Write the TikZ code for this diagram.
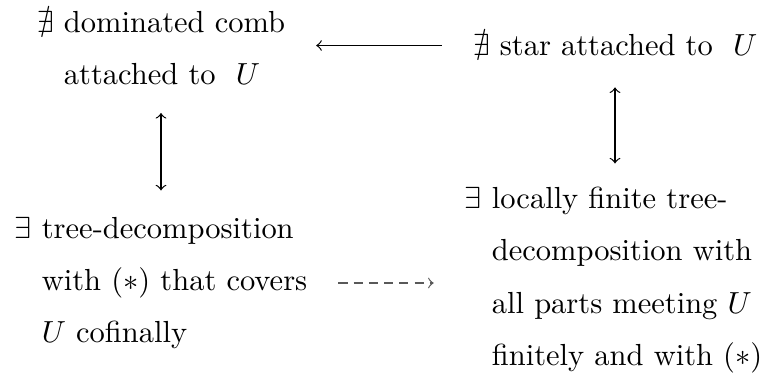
\documentclass[tikz,border=0pt]{standalone}
\usepackage{amssymb}
\newcommand{\qindent}{\hphantom{$\exists$}\ }
\tikzset{
	claim/.style={align=left, inner sep=0pt, font=\linespread{1.43}\selectfont},
	impl/.style={->, shorten >=10pt, shorten <=10pt},
	equiv/.style={<->, shorten >=8.5pt, shorten <=9pt}
}
\begin{document}
\begin{tikzpicture}[x=0.3279pt,y=0.3279pt]
			\useasboundingbox (0,0) rectangle (769,380);
			\node[claim] (nocomb) at (161,332) {$\nexists$ dominated comb\\ \qindent attached to\ \ $U$};
			\node[claim] (nostar) at (615,334.5) {$\nexists$ star attached to\ \ $U$};
			\node[claim] (cofinal) at (161,97) {$\exists$ tree-decomposition\\ \qindent with $(*)$ that covers\\ \qindent $U$ cofinally};
			\node[claim] (locfin) at (613.5,100) {$\exists$ locally finite tree-\\ \qindent decomposition with\\ \qindent all parts meeting $U$\\ \qindent finitely and with $(*)$};
			\draw[impl] (nostar.west) -- (nostar.west -| nocomb.east);
			\draw[equiv] (nocomb.south) -- (cofinal.north);
			\draw[equiv, shorten <=10pt, shorten >=7.5pt] (nostar.south) -- (nostar.south |- locfin.north);
			\draw[impl, densely dashed, black!65] (cofinal.east) -- (cofinal.east -| locfin.west);
		\end{tikzpicture}
\end{document}
